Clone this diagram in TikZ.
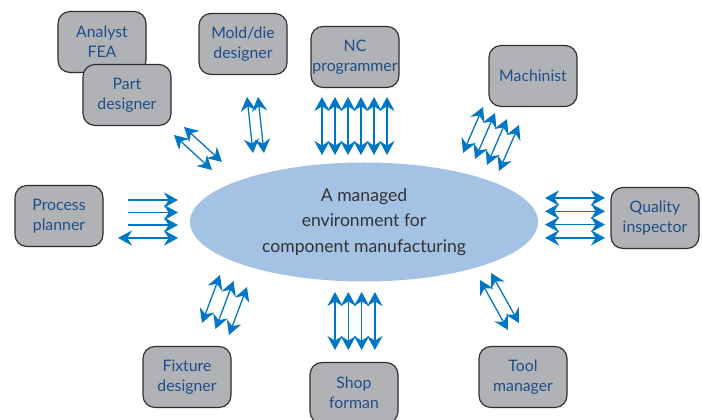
\documentclass[tikz,border=0pt]{standalone}
\usepackage{fontspec}
\setmainfont{Lato}
\usepackage{xcolor}
\usepackage{tikz}
\usetikzlibrary{shapes.geometric, arrows.meta}
\definecolor{boxgray}{HTML}{B1B2B6}
\definecolor{boxline}{HTML}{2E2E30}
\definecolor{boxtext}{HTML}{1D4E89}
\definecolor{flowblue}{HTML}{0076C7}
\definecolor{ovalblue}{HTML}{A4C2E4}
\definecolor{ovaltext}{HTML}{333333}
\tikzstyle{role} = [rectangle, rounded corners=0.36cm, minimum width=2.64cm, minimum height=1.83cm, text centered, align=center, inner sep=1pt, draw=boxline, line width=1pt, fill=boxgray, text=boxtext, font=\fontsize{13.5}{17}\selectfont]
\tikzstyle{hub} = [ellipse, minimum width=10.44cm, minimum height=3.57cm, inner sep=0pt, align=center, fill=ovalblue, text=ovaltext, font=\fontsize{15}{21.5}\selectfont]
\tikzstyle{flow} = [line width=1.1pt, draw=flowblue, -{Stealth[length=12pt,width=13pt,inset=4pt]}]
\tikzstyle{dblflow} = [line width=1.1pt, draw=flowblue, {Stealth[length=12pt,width=13pt,inset=4pt]}-{Stealth[length=12pt,width=13pt,inset=4pt]}]

\begin{document}
\begin{tikzpicture}[x=0.03cm, y=0.03cm]
	\useasboundingbox (0,0) rectangle (702,419);
	\clip (0,0) rectangle (702,419);
	
	\node (Hub) [hub] at (364,197) {A managed\\environment for\\component manufacturing};
	
	\node (AnalystFEA) [role] at (102,377) {Analyst\\FEA};
	\node (PartDes) [role] at (127,324) {Part\\designer};
	\node (MoldDie) [role] at (243,375) {Mold/die\\designer};
	\node (NCProg) [role] at (355,362) {NC\\programmer};
	\node (Machinist) [role] at (533,343) {Machinist};
	\node (ProcPlan) [role] at (59,203) {Process\\planner};
	\node (Quality) [role] at (655,201) {Quality\\inspector};
	\node (Fixture) [role] at (187,42) {Fixture\\designer};
	\node (ShopForman) [role] at (354,26) {Shop\\forman};
	\node (ToolMgr) [role] at (523,42) {Tool\\manager};
	
	% ends of the arrow bundles
	\coordinate (partA) at (174,284);   \coordinate (partB) at (212,249);
	\coordinate (moldA) at (247,322);   \coordinate (moldB) at (253,266);
	\coordinate (ncA) at (322,322);     \coordinate (ncB) at (322,264);
	\coordinate (machA) at (483,312);   \coordinate (machB) at (463,266);
	\coordinate (procA) at (128,219);   \coordinate (procB) at (178,219);
	\coordinate (qualA) at (545,221);   \coordinate (qualB) at (605,221);
	\coordinate (fixA) at (220,144);    \coordinate (fixB) at (202,96);
	\coordinate (shopA) at (335,127);   \coordinate (shopB) at (335,69);
	\coordinate (toolA) at (480,139);   \coordinate (toolB) at (508,89);
	
	\foreach \i in {0,1}
		\draw [dblflow] ([shift={(\i*10,\i*8)}]partA) -- ([shift={(\i*10,\i*8)}]partB);
	\foreach \i in {0,1}
		\draw [dblflow] ([shift={(\i*11,0)}]moldA) -- ([shift={(\i*11,0)}]moldB);
	\foreach \i in {0,...,5}
		\draw [dblflow] ([shift={(\i*13,0)}]ncA) -- ([shift={(\i*13,0)}]ncB);
	\foreach \i in {0,...,3}
		\draw [dblflow] ([shift={(\i*12,-\i*6)}]machA) -- ([shift={(\i*12,-\i*6)}]machB);
	\foreach \i in {0,1,2}
		\draw [flow] ([shift={(0,-\i*12.5)}]procA) -- ([shift={(0,-\i*12.5)}]procB);
	\draw [dblflow] ([shift={(-10,-38)}]procA) -- ([shift={(0,-38)}]procB);
	\foreach \i in {0,...,3}
		\draw [dblflow] ([shift={(0,-\i*13.3)}]qualA) -- ([shift={(0,-\i*13.3)}]qualB);
	\foreach \i in {0,1,2}
		\draw [dblflow] ([shift={(\i*13.5,-\i*6)}]fixA) -- ([shift={(\i*13.5,-\i*6)}]fixB);
	\foreach \i in {0,...,3}
		\draw [dblflow] ([shift={(\i*13.3,0)}]shopA) -- ([shift={(\i*13.3,0)}]shopB);
	\foreach \i in {0,1}
		\draw [dblflow] ([shift={(\i*11,\i*7)}]toolA) -- ([shift={(\i*11,\i*7)}]toolB);
\end{tikzpicture}
\end{document}
